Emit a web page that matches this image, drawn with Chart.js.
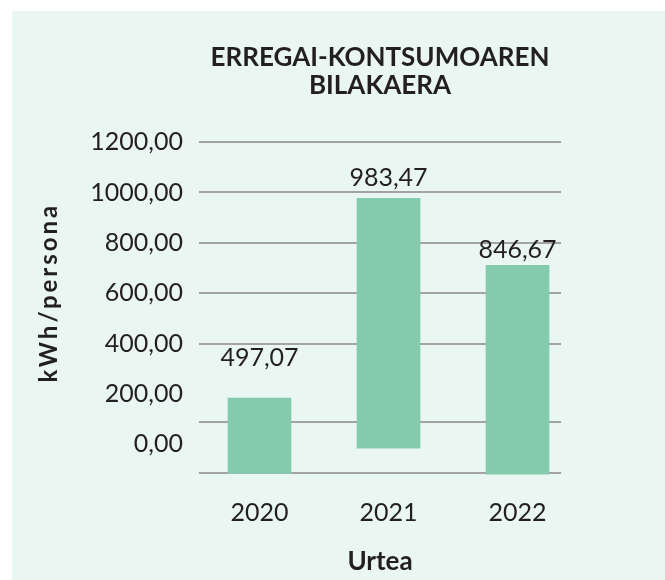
<!DOCTYPE html>
<html>
<head>
<meta charset="utf-8">
<script src="https://cdn.jsdelivr.net/npm/chart.js@4"></script>
<style>
    html, body { margin: 0; padding: 0; background: #ffffff; }
    #wrap {
        position: absolute;
        left: 12px;
        top: 11px;
        width: 653px;
        height: 569px;
        background: #eaf6f2;
    }
</style>
</head>
<body>
<div id="wrap"><canvas id="fuelChart" width="653" height="569"></canvas></div>
<script>
// Values as printed on the chart
const years = ['2020', '2021', '2022'];
const labelValues = [497.07, 983.47, 846.67];
// Where the bars actually sit
const barTop = [183, 977, 711];
const barBase = [-116, -15, -119];
// Axis ticks and the (irregular) horizontal rules
const yTicks = [0, 200, 400, 600, 800, 1000, 1200];
const gridValues = [1200, 1000, 800, 600, 400, 87, -115];

const textColor = '#231f20';
const fontFamily = 'Lato, "Open Sans", sans-serif';

function fmt(v) {
    return v.toFixed(2).replace('.', ',');
}

// value labels above bars
const labelGap = [40, 20, 15];
const valueLabels = {
    id: 'valueLabels',
    afterDatasetsDraw(chart) {
        const ctx = chart.ctx;
        const meta = chart.getDatasetMeta(0);
        ctx.save();
        ctx.font = '25px ' + fontFamily;
        ctx.fillStyle = textColor;
        ctx.textAlign = 'center';
        ctx.textBaseline = 'middle';
        meta.data.forEach((bar, i) => {
            ctx.fillText(fmt(labelValues[i]), bar.x, bar.y - labelGap[i]);
        });
        ctx.restore();
    }
};

// y axis title, sits a bit above the middle of the plot
const yTitle = {
    id: 'yTitle',
    afterDraw(chart) {
        const ctx = chart.ctx;
        const area = chart.chartArea;
        ctx.save();
        ctx.translate(37, (area.top + area.bottom) / 2 - 16);
        ctx.rotate(-Math.PI / 2);
        ctx.font = 'bold 24px ' + fontFamily;
        ctx.letterSpacing = '3px';
        ctx.fillStyle = textColor;
        ctx.textAlign = 'center';
        ctx.textBaseline = 'middle';
        ctx.fillText('kWh/persona', 0, 0);
        ctx.restore();
    }
};

new Chart(document.getElementById('fuelChart'), {
    type: 'bar',
    data: {
        datasets: [{
            data: years.map((y, i) => ({ x: i, y: [barBase[i], barTop[i]] })),
            backgroundColor: '#84cbae',
            borderWidth: 0,
            barThickness: 63
        }]
    },
    options: {
        responsive: false,
        animation: false,
        layout: { padding: { left: 0, top: 0, bottom: 0, right: 104 } },
        plugins: {
            legend: { display: false },
            tooltip: { enabled: false },
            title: {
                display: true,
                fullSize: false,
                text: ['ERREGAI-KONTSUMOAREN', 'BILAKAERA'],
                color: textColor,
                font: { family: fontFamily, size: 26, weight: 'bold', lineHeight: 1.06 },
                padding: { top: 33, bottom: 43 }
            }
        },
        scales: {
            x: {
                type: 'linear',
                offset: false,
                min: -0.469,
                max: 2.337,
                afterBuildTicks: scale => { scale.ticks = years.map((y, i) => ({ value: i })); },
                afterFit: scale => { scale.height = 105; },
                grid: { display: false, drawTicks: false, offset: false },
                border: { display: false },
                ticks: {
                    callback: value => years[value],
                    color: textColor,
                    padding: 23,
                    font: { family: fontFamily, size: 25 }
                },
                title: {
                    display: true,
                    text: 'Urtea',
                    color: textColor,
                    font: { family: fontFamily, size: 26, weight: 'bold' },
                    padding: { top: 0, bottom: 3 }
                }
            },
            y: {
                min: -122,
                max: 1200,
                afterBuildTicks: scale => { scale.ticks = yTicks.map(v => ({ value: v })); },
                afterFit: scale => { scale.width = 187; },
                grid: { display: false, drawTicks: false },
                border: { display: false },
                ticks: {
                    callback: value => fmt(value),
                    color: textColor,
                    padding: 16,
                    font: { family: fontFamily, size: 25 }
                }
            },
            yGrid: {
                position: 'left',
                min: -122,
                max: 1200,
                afterBuildTicks: scale => { scale.ticks = gridValues.map(v => ({ value: v })); },
                afterFit: scale => { scale.width = 0; },
                grid: { color: '#a3a3a3', lineWidth: 2, drawTicks: false },
                border: { display: false },
                ticks: { display: false }
            }
        }
    },
    plugins: [valueLabels, yTitle]
});
</script>
</body>
</html>
